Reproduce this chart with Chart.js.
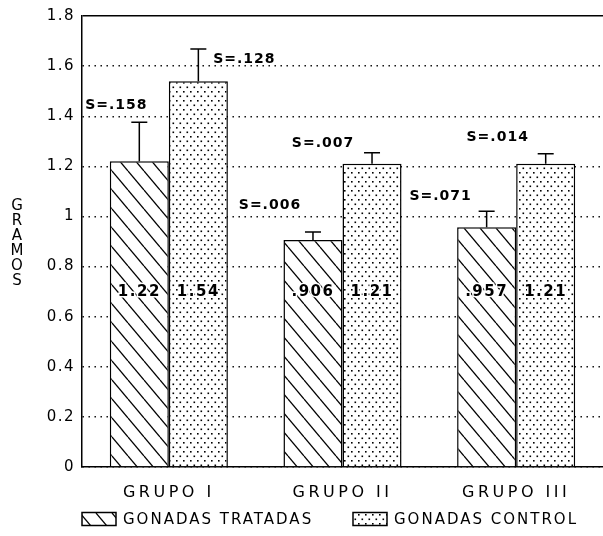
<!DOCTYPE html>
<html>
<head>
<meta charset="utf-8">
<script src="https://cdn.jsdelivr.net/npm/chart.js@4.4.0/dist/chart.umd.min.js"></script>
<style>
  html, body { margin: 0; padding: 0; background: #fff; }
  #wrap { width: 603px; height: 536px; }
</style>
</head>
<body>
<div id="wrap"><canvas id="gonadChart"></canvas></div>
<script>
// data
const groups = ['GRUPO I', 'GRUPO II', 'GRUPO III'];
const treated = [1.22, 0.906, 0.957];
const control = [1.54, 1.21, 1.21];
const treatedText = ['1.22', '.906', '.957'];
const controlText = ['1.54', '1.21', '1.21'];
// error bar lengths as they are drawn
const treatedErr = [0.156, 0.032, 0.064];
const controlErr = [0.128, 0.044, 0.040];
const treatedS = ['S=.158', 'S=.006', 'S=.071'];
const controlS = ['S=.128', 'S=.007', 'S=.014'];
const yTickLabels = ['0', '0.2', '0.4', '0.6', '0.8', '1', '1.2', '1.4', '1.6', '1.8'];
const axisTitle = 'GRAMOS';

// placement of the S= notes, px from bar centre / error cap
const treatedSOffset = [[-23, -17], [-43, -27], [-46, -15]];
const controlSOffset = [[46, 10], [-49, -9], [-48, -16]];
const valueTextAt = 0.7;

const ctx = document.getElementById('gonadChart').getContext('2d');

function hatchPattern() {
    const c = document.createElement('canvas');
    c.width = 16; c.height = 19;
    const g = c.getContext('2d');
    g.fillStyle = '#fff';
    g.fillRect(0, 0, 16, 19);
    g.strokeStyle = '#000';
    g.lineWidth = 1.3;
    [-16, 0, 16].forEach(dx => {
        g.beginPath();
        g.moveTo(dx, 0);
        g.lineTo(dx + 16, 19);
        g.stroke();
    });
    return ctx.createPattern(c, 'repeat');
}

function dotPattern() {
    const c = document.createElement('canvas');
    c.width = 7; c.height = 9;
    const g = c.getContext('2d');
    g.fillStyle = '#fff';
    g.fillRect(0, 0, 7, 9);
    g.fillStyle = '#000';
    g.fillRect(1, 1, 1.6, 1.6);
    g.fillRect(4.5, 5.5, 1.6, 1.6);
    return ctx.createPattern(c, 'repeat');
}

const notes = {
    id: 'notes',
    beforeDraw(chart) {
        chart.ctx.letterSpacing = '1.5px';
    },
    afterDatasetsDraw(chart) {
        const c = chart.ctx;
        const y = chart.scales.y;
        const sets = [
            [treated, treatedErr, treatedS, treatedText, treatedSOffset],
            [control, controlErr, controlS, controlText, controlSOffset]
        ];
        c.save();
        c.strokeStyle = '#000';
        c.fillStyle = '#000';
        c.textAlign = 'center';
        c.textBaseline = 'middle';
        sets.forEach(([vals, err, sText, vText, offs], di) => {
            chart.getDatasetMeta(di).data.forEach((bar, i) => {
                const topY = y.getPixelForValue(vals[i] + err[i]);
                c.lineWidth = 1.5;
                c.beginPath();
                c.moveTo(bar.x, bar.y);
                c.lineTo(bar.x, topY);
                c.moveTo(bar.x - 8, topY);
                c.lineTo(bar.x + 8, topY);
                c.stroke();

                c.font = 'bold 14px "DejaVu Sans"';
                c.letterSpacing = '1px';
                c.fillText(sText[i], bar.x + offs[i][0], topY + offs[i][1]);

                c.letterSpacing = '1.5px';
                const ty = y.getPixelForValue(valueTextAt);
                c.font = 'bold 15px "DejaVu Sans"';
                c.lineWidth = 3;
                c.strokeStyle = '#fff';
                c.strokeText(vText[i], bar.x, ty);
                c.fillText(vText[i], bar.x, ty);
                c.strokeStyle = '#000';
            });
        });
        c.restore();
        // x labels are drawn after this hook (ticks z = 1)
        c.letterSpacing = '3.5px';
    },
    afterDraw(chart) {
        const c = chart.ctx;
        const area = chart.chartArea;
        c.save();
        c.letterSpacing = '0px';
        c.fillStyle = '#000';
        c.textAlign = 'center';
        c.textBaseline = 'middle';
        c.font = '15px "DejaVu Sans"';
        for (let i = 0; i < axisTitle.length; i++) {
            c.fillText(axisTitle[i], 17, 206 + i * 15);
        }

        // legend
        const legendX = [area.left, area.left + 271];
        const ly = 519;
        c.font = '15px "DejaVu Sans"';
        c.textAlign = 'left';
        c.letterSpacing = '2px';
        chart.data.datasets.forEach((ds, i) => {
            const x = legendX[i];
            c.fillStyle = ds.backgroundColor;
            c.fillRect(x, ly - 6.5, 34, 13);
            c.lineWidth = 1.5;
            c.strokeStyle = '#000';
            c.strokeRect(x, ly - 6.5, 34, 13);
            c.fillStyle = '#000';
            c.fillText(ds.label, x + 41, ly + 1);
        });
        c.restore();
        c.letterSpacing = '1.5px';
    }
};

const gonadChart = new Chart(ctx, {
    type: 'bar',
    data: {
        labels: groups,
        datasets: [{
            label: 'GONADAS TRATADAS',
            data: treated,
            backgroundColor: hatchPattern(),
            borderColor: '#000',
            borderWidth: 1.5,
            categoryPercentage: 0.68,
            barPercentage: 1.0
        }, {
            label: 'GONADAS CONTROL',
            data: control,
            backgroundColor: dotPattern(),
            borderColor: '#000',
            borderWidth: 1.5,
            categoryPercentage: 0.68,
            barPercentage: 1.0
        }]
    },
    options: {
        responsive: true,
        maintainAspectRatio: false,
        animation: false,
        events: [],
        layout: {
            padding: { top: 16, right: 0, left: 0, bottom: 0 }
        },
        plugins: {
            legend: { display: false },
            tooltip: { enabled: false }
        },
        scales: {
            x: {
                afterFit: scale => { scale.height = 69; },
                grid: { display: false },
                border: { color: '#000', width: 1.5 },
                ticks: {
                    z: 1,
                    padding: 8,
                    color: '#000',
                    font: { family: 'DejaVu Sans', size: 16 }
                }
            },
            y: {
                min: 0,
                max: 1.8,
                afterFit: scale => { scale.width = 82; },
                grid: {
                    color: '#000',
                    lineWidth: c => (c.index === 9 ? 1.5 : 1.4),
                    drawTicks: false
                },
                border: {
                    color: '#000',
                    width: 1.5,
                    dash: c => (c.index === 9 ? [] : [1.4, 4.6])
                },
                ticks: {
                    stepSize: 0.2,
                    padding: 7,
                    color: '#000',
                    font: { family: 'DejaVu Sans', size: 15 },
                    callback: (value, index) => yTickLabels[index]
                }
            }
        }
    },
    plugins: [notes]
});
</script>
</body>
</html>
